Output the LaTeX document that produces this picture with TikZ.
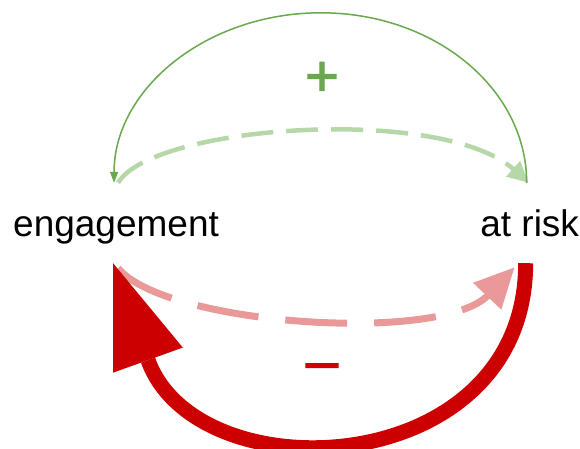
\documentclass[tikz,border=0pt]{standalone}
\usepackage{fontspec}
\setmainfont{Liberation Sans}
\newfontfamily\signfont[FakeBold=2]{Liberation Sans}
\usetikzlibrary{arrows.meta,positioning,calc}
\definecolor{posgreen}{HTML}{6AA84F}
\definecolor{poslight}{HTML}{B6D7A8}
\definecolor{negred}{HTML}{CC0000}
\definecolor{neglight}{HTML}{EA9999}

\begin{document}
\begin{tikzpicture}[x=1pt, y=-1pt,
    var/.style={font=\fontsize{37}{37}\selectfont, inner sep=0pt,
                text height=53pt, text depth=27pt},
    sign/.style={font=\fontsize{58}{58}\signfont, inner sep=0pt},
    posarr/.style={-{Triangle[length=11pt, width=8pt]}, line width=1.5pt, posgreen},
    posdash/.style={-{Triangle[length=21pt, width=20pt]}, line width=4.5pt, poslight,
                    dash pattern=on 32pt off 13pt},
    negdash/.style={-{Triangle[length=40pt, width=37pt]}, line width=7pt, neglight,
                    dash pattern=on 62pt off 27pt},
    negarr/.style={-{Triangle[length=103pt, width=74pt, line width=0pt]}, line width=15pt, negred}
  ]
  \useasboundingbox (0,0) rectangle (580,449);

  \node[var, anchor=base west] (engagement) at (13,236) {engagement};
  \node[var, right=261pt of engagement] (atrisk) {at risk};

  \node[sign, text=posgreen] (plus) at (322,79) {+};
  \node[sign, text=negred] (minus) at (322,372) {–};

  % positive loop
  \draw[posdash] ($(engagement.north)+(2,0)$)
    .. controls +(35,-58) and +(-87,-78) .. ($(atrisk.north)+(-1,0)$);
  \coordinate (top) at ($(engagement.north)!0.5!(atrisk.north)+(-2,-170)$);
  \draw[posarr] ($(atrisk.north)+(-3,0)$)
    .. controls +(0,-94) and +(114,0) .. (top)
    .. controls +(-114,0) and +(0,-94) .. ($(engagement.north)+(-2,0)$);

  % negative loop
  \draw[negdash] ($(engagement.south)+(2,5)$)
    .. controls +(47,57) and +(-73,77) .. ($(atrisk.south)+(-15,4)$);
  \draw[negarr] ($(atrisk.south)+(-4,0)$)
    .. controls +(0,218) and +(84,233) .. ($(engagement.south)+(-3,0)$);
\end{tikzpicture}
\end{document}
